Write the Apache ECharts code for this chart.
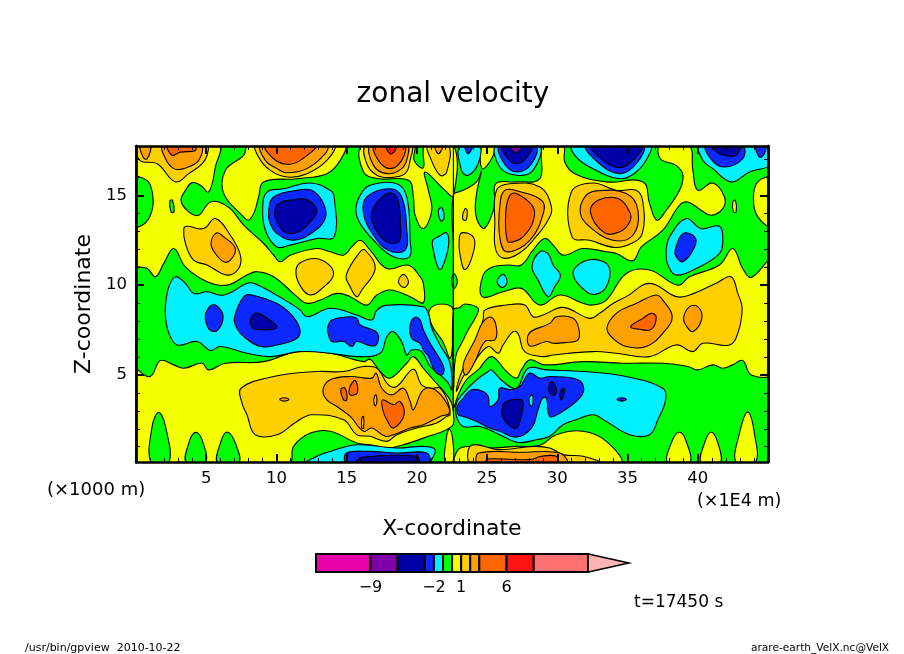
<!DOCTYPE html>
<html><head><meta charset="utf-8">
<style>html,body{margin:0;padding:0;background:#fff}#c{width:904px;height:654px}</style>
<script src="https://cdn.jsdelivr.net/npm/echarts@6/dist/echarts.min.js"></script>
</head><body><div id="c"></div>
<script>
// Tick values
const xTickValues=[5,10,15,20,25,30,35,40];
const zTickValues=[5,10,15];
const zMinorValues=[1,2,3,4,6,7,8,9,11,12,13,14,16,17];
// Colour bar levels and labels
const barLevels=[-15,-9,-6,-3,-2,-1,0,1,2,3,6,9,15];
const barLabels=[-9,-2,1,6];
// Contour regions: flat lists x,z,x,z... in axis units (1E4 m, 1000 m)
const yellowShapes=[
[-0.5,18,-0.3,18,5.85,18,5.65,16.58,5.18,15.19,4.59,15.56,4.0,15.71,3.52,15.28,3.21,14.69,3.76,14.08,4.47,13.89,4.94,14.36,5.3,14.63,5.89,14.63,6.72,14.26,7.67,13.34,9.09,12.32,9.8,11.67,10.27,11.3,10.98,11.67,12.88,12.04,13.83,11.86,14.78,11.67,15.37,12.13,15.96,12.5,16.67,11.95,17.86,10.93,19.4,11.11,20.23,10.47,20.46,10.1,20.46,9.02,19.52,9.36,18.09,9.73,17.15,9.45,16.43,8.89,15.25,9.36,14.3,9.54,13.12,9.17,12.17,8.99,11.46,9.36,9.8,10.47,8.61,10.75,7.9,10.56,6.48,10.0,5.06,10.19,3.52,11.02,2.69,12.04,1.98,11.21,1.39,10.47,0.8,10.93,-0.3,11.2,-0.5,14],
[8.0,18,14.8,18,14.54,16.95,13.59,16.21,11.46,15.93,9.09,15.75,8.73,14.91,8.43,14.08,8.02,13.62,7.67,13.8,6.25,15.1,6.36,16.39,7.67,17.23],
[16.13,18,19.75,18,19.8,16.95,20.46,16.54,20.58,18,22.6,18,22.6,14.95,22.0,15.28,20.58,16.3,20.82,15.28,21.06,14.17,20.46,13.15,19.87,13.9,19.75,14.91,19.4,15.84,17.26,15.93,16.2,16.3],
[24.65,18,25.43,18,25.38,17.13,24.65,16.49],
[22.59,15.0,23.3,15.28,24.25,15.75,24.6,16.36,24.25,15.1,24.2,13.9,24.72,13.15,25.19,13.62,25.55,14.54,25.62,15.65,27.09,15.75,28.75,15.93,28.98,18,30.41,18,30.53,16.86,31.24,16.21,33.49,15.75,36.09,15.75,36.57,14.54,37.09,13.62,37.75,14.17,38.7,15.28,38.94,16.11,38.46,16.67,37.33,17.04,37.33,18,39.36,18,39.65,16.39,40.0,15.28,41.07,15.69,41.9,14.91,41.78,14.26,40.95,13.89,40.24,14.17,39.29,14.63,38.7,14.45,37.51,13.06,35.98,12.13,35.38,11.36,34.2,11.76,33.49,11.86,31.83,12.04,30.41,11.67,29.7,12.23,29.1,12.6,28.27,11.95,27.44,11.12,26.5,11.12,25.43,11.02,24.72,10.56,24.65,9.36,26.14,9.63,27.44,9.82,28.75,8.89,30.17,9.45,31.83,8.99,32.54,8.89,33.49,9.17,34.91,10.65,36.57,10.84,38.58,10.0,39.41,10.47,41.54,11.12,42.49,12.04,43.2,10.93,43.8,10.43,45.3,11.4,45.3,5.13,43.8,5.0,43.2,5.8,42.49,5.56,41.78,5.37,41.07,5.56,40.0,5.28,39.29,5.47,37.51,5.65,34.67,5.65,31.83,5.74,29.1,5.56,28.04,5.84,27.44,5.28,27.09,4.82,26.38,5.19,25.31,6.02,24.36,5.28,23.53,4.73,22.94,3.89,22.63,3.24,22.6,6,22.6,9,22.6,12],
[20.89,8.61,21.77,8.95,22.6,8.61,22.55,6.76,22.36,5.93,22.0,6.58,21.77,6.95,21.06,7.78],
[-0.3,5.4,0.8,4.91,1.15,5.0,1.74,5.8,2.69,5.56,3.4,5.37,4.7,5.65,5.18,5.28,6.36,5.65,9.09,5.74,11.46,6.3,13.83,6.21,16.2,5.74,16.67,5.87,17.38,5.19,18.09,4.82,19.28,5.65,19.75,6.02,20.46,5.37,21.17,4.73,22.36,3.61,22.6,2.87,22.48,2.13,20.46,1.48,19.04,1.11,17.86,0.93,16.67,1.11,15.72,1.21,13.83,1.86,12.41,1.76,11.22,1.02,10.87,0,-0.3,0,-0.5,0,-0.5,3],
[22.0,0,22.12,1.58,22.31,1.98,22.55,1.39,22.55,0],
[22.82,0,22.94,0.84,23.77,1.02,25.19,0.93,27.09,1.02,28.75,1.08,29.93,1.67,31.83,1.86,33.49,1.3,34.44,0],
[37.87,0,38.11,1.21,38.7,1.82,39.22,1.21,39.41,0],
[40.24,0,40.48,1.21,40.95,1.82,41.43,1.21,41.59,0],
[42.73,0,42.97,1.76,43.56,2.93,44.03,1.76,44.1,0],
[45.3,15.93,44.27,15.75,43.96,14.82,44.27,13.8,45.3,13.28],
[42.49,14.63,42.68,14.73,42.73,14.08,42.54,14.08]
];
const greenShapes=[
[-0.3,15.99,0.56,15.93,1.03,15.56,1.22,14.54,0.91,13.71,0.44,13.34,-0.3,13.25],
[2.41,14.69,2.6,14.73,2.71,14.08,2.5,14.08],
[22.59,8.61,23.06,8.76,23.42,8.95,24.36,8.71,24.2,8.24,23.65,7.5,23.18,6.76,22.82,6.2,22.68,5.47,22.63,4.35],
[22.48,10.28,22.64,10.65,22.88,10.19,22.64,9.82],
[1.08,0,1.15,2.13,1.62,2.91,2.1,2.13,2.34,0],
[3.59,0,3.76,1.21,4.23,1.8,4.7,1.39,4.94,0],
[5.82,0,6.01,1.21,6.48,1.82,7.07,1.21,7.31,0]
];
const goldShapes=[
[0.2,18,0.27,16.95,1.51,16.76,2.81,15.75,3.76,16.21,4.7,16.76,5.06,17.23,5.01,18],
[8.57,18,8.73,17.13,9.56,16.39,10.75,16.02,12.17,16.21,13.59,16.95,14.07,18],
[16.39,18,16.43,16.76,17.15,16.12,18.09,15.99,19.16,16.21,19.52,16.95,19.56,18],
[20.77,18,20.94,17.13,21.65,16.12,22.12,16.3,22.24,18],
[3.4,13.15,3.64,13.28,4.82,13.15,5.65,13.71,6.72,12.78,7.43,11.67,7.31,10.93,6.48,10.56,5.06,11.12,4.11,11.39,3.52,12.32],
[11.39,10.65,11.7,11.25,13.12,11.43,14.07,10.65,13.12,9.73,12.41,9.45,11.81,9.82],
[14.97,10.56,15.96,11.86,16.32,11.95,17.03,10.93,16.08,9.73,15.72,9.36,15.25,9.91],
[18.69,10.19,19.04,10.6,19.4,10.19,19.09,9.87],
[25.55,13.43,25.67,15.28,26.62,15.65,28.75,15.47,29.58,14.36,29.34,13.62,28.27,12.5,27.44,11.86,26.26,11.49,25.62,11.95],
[31.0,15.19,32.54,15.69,34.2,15.28,35.62,15.28,36.09,14.63,36.05,12.87,35.26,12.32,34.08,12.1,32.3,12.5,31.05,12.69],
[23.01,12.5,23.18,12.91,24.01,12.69,24.06,11.95,23.42,10.87,23.06,11.76],
[23.25,13.71,23.42,14.26,23.58,14.17,23.49,13.62],
[7.48,4.26,9.8,4.91,12.88,5.19,14.78,5.19,16.2,5.47,17.15,5.37,17.97,4.45,18.57,4.36,19.75,5.32,20.34,4.45,21.06,4.26,21.65,4.26,22.24,3.43,22.36,2.78,22.12,2.69,21.41,2.32,19.99,2.04,18.57,1.67,17.86,1.3,16.67,1.58,15.72,1.67,14.78,2.5,12.52,2.78,11.46,2.41,10.04,1.67,8.5,1.67,7.9,2.78,7.55,3.43],
[22.82,4.08,23.06,4.91,24.01,6.58,24.72,8.06,24.84,8.61,26.38,8.89,27.68,8.89,28.27,8.24,28.98,8.34,30.41,8.76,32.3,8.15,33.01,8.43,33.96,8.98,34.91,9.36,36.57,10.1,38.46,9.36,39.41,9.45,41.31,10.1,42.37,10.47,42.85,9.54,43.16,8.71,42.85,7.32,42.26,6.67,40.36,6.76,39.65,6.3,38.46,6.67,36.57,6.02,34.2,6.21,32.54,6.3,29.7,6.11,28.98,6.02,27.68,6.3,27.2,7.32,26.85,7.41,26.14,6.67,25.79,6.21,25.08,6.58,24.01,5.65,23.3,4.91],
[23.89,0,23.89,1.08,25.9,0.84,28.27,1.02,29.46,0.93,30.41,0.56,31.83,0.47,33.01,0]
];
const orangeShapes=[
[1.93,18,2.1,17.04,2.69,16.49,3.4,16.49,4.47,16.95,4.59,18],
[0.32,18,0.51,17.13,0.8,17.04,1.03,18],
[8.92,18,9.21,16.95,10.04,16.49,10.75,16.26,12.17,16.49,13.47,17.32,13.59,18],
[16.72,18,16.91,16.67,17.86,16.21,18.92,16.49,19.33,17.13,19.28,18],
[21.29,18,21.53,17.32,21.84,18],
[5.34,12.32,5.72,12.91,6.25,12.69,7.07,12.04,6.72,11.39,6.25,11.3,5.65,11.76],
[25.9,14.36,26.26,15.28,27.44,15.19,28.87,14.73,29.03,14.08,28.04,12.5,26.38,11.86,25.9,12.69],
[31.64,13.99,31.95,14.91,32.78,15.25,34.91,15.1,35.74,14.17,35.38,12.78,33.96,12.5,32.3,13.25],
[13.31,4.17,13.83,4.73,15.25,4.91,16.79,4.82,17.1,5.1,17.5,4.26,18.21,3.89,19.04,4.26,19.52,3.52,19.75,3.06,20.46,4.17,21.29,4.17,22.12,3.43,22.31,2.87,21.65,2.69,20.46,2.22,19.52,2.04,18.33,1.67,17.74,1.58,16.79,2.04,16.2,1.86,15.25,2.69,14.3,3.24,13.59,3.61],
[10.23,3.65,10.56,3.73,10.89,3.65,10.56,3.54],
[23.3,5.19,23.35,5.74,24.13,6.95,24.72,7.97,25.31,8.21,25.67,7.6,25.55,6.95,24.84,6.86,24.13,5.74,23.53,5.0],
[27.99,7.32,29.46,7.87,29.93,8.24,31.12,8.15,31.52,7.6,31.47,6.95,30.53,6.8,29.7,6.76,29.22,6.86,28.04,6.61],
[33.53,7.6,34.2,8.43,35.62,8.98,37.04,9.45,37.51,9.17,38.18,8.24,37.51,7.32,36.33,6.58,34.91,6.58,33.96,7.04],
[38.99,8.15,39.41,8.8,40.0,8.8,40.29,8.15,39.65,7.41,39.22,7.69],
[24.36,0,24.41,0.65,27.44,0.69,30.17,0.65,30.64,0]
];
const darkOrangeShapes=[
[2.26,18,2.57,17.23,3.16,17.41,4.23,17.5,4.11,18],
[9.21,18,9.8,17.04,10.75,16.73,11.7,16.95,12.76,18],
[16.98,18,17.26,16.95,18.09,16.49,18.92,16.95,19.09,18],
[26.33,14.08,26.62,15.0,27.09,15.1,28.27,14.36,28.27,13.52,27.56,12.69,26.85,12.41,26.43,12.5],
[32.35,14.08,32.9,14.73,34.32,14.82,35.15,14.08,35.15,13.52,34.44,12.97,33.37,12.91],
[14.59,4.21,14.89,4.26,15.01,3.61,14.78,3.61],
[15.25,4.36,15.61,4.69,15.77,4.02,15.25,3.89],
[17.55,3.61,18.33,3.34,18.8,3.52,19.09,2.78,18.33,2.04,17.86,2.5,17.57,3.06],
[35.22,7.69,36.09,8.15,36.69,8.43,37.04,8.24,36.69,7.54,35.86,7.54],
[24.91,0,25.08,0.32,28.04,0.28,28.87,0.47,29.93,0.47,29.98,0]
];
const redShapes=[[17.81,18,18.09,17.32,18.45,17.5,18.52,18]];
const goldHoles=[
[16.93,3.61,17.07,3.89,17.15,3.52,17.03,3.28],
[16.08,2.6,16.2,2.69,16.2,2.04,16.08,2.04]
];
const cyanShapes=[
[2.1,8.89,2.34,9.91,2.81,10.47,3.52,10.1,4.11,9.54,5.06,9.63,6.25,9.45,7.9,10.1,8.38,10.1,9.8,9.54,10.98,8.99,11.7,8.61,12.17,8.24,13.83,8.71,15.72,8.34,16.79,8.06,17.15,8.61,17.86,8.89,20.46,8.8,20.82,8.43,21.06,7.6,21.65,6.67,22.36,5.65,22.48,4.17,22.24,4.54,21.65,5.0,20.94,5.47,20.34,6.3,19.63,6.39,19.28,6.11,18.92,6.84,18.33,7.41,17.86,7.13,17.38,6.21,15.72,6.02,13.83,6.21,11.7,6.3,9.56,6.02,7.9,6.21,6.01,6.58,5.3,6.36,4.35,6.86,2.93,6.67,2.34,7.32,2.1,8.24],
[9.02,14.36,9.33,15.19,10.51,15.37,12.41,15.69,13.83,15.28,14.11,14.91,14.11,12.69,12.88,12.6,10.98,12.23,10.04,12.13,9.21,13.06],
[15.65,14.17,15.96,15.0,16.67,15.56,18.57,15.65,19.28,14.91,19.52,12.5,19.47,11.58,18.33,11.58,16.91,12.5,15.96,13.43],
[21.53,14.17,21.77,14.32,21.93,13.71,21.7,13.58],
[21.13,12.5,21.53,12.69,22.12,12.91,22.24,12.13,21.77,10.93,21.53,10.93,21.17,11.95],
[23.06,18,23.18,16.39,23.65,16.12,24.36,16.76,24.44,18],
[25.67,18,25.9,16.58,27.09,16.12,28.27,16.39,28.7,18],
[31.07,18,31.24,17.23,32.3,16.58,34.44,15.93,35.62,16.3,36.57,17.32,36.62,18],
[40.17,18,40.36,16.95,41.07,16.49,42.37,15.75,43.68,16.3,45.3,16.76,45.3,18],
[28.2,11.02,28.75,11.86,29.34,11.76,29.7,11.12,30.22,10.56,29.81,9.91,29.34,9.36,28.63,10.28],
[31.12,10.62,31.83,11.3,33.01,11.39,33.72,10.93,33.49,9.91,32.78,9.5,32.07,9.63],
[25.71,10.19,26.14,10.6,26.43,10.19,26.09,9.87],
[37.75,11.95,37.99,12.69,39.17,13.71,40.24,13.15,41.54,13.28,41.78,12.5,41.54,11.76,39.89,10.93,38.46,10.56,37.87,11.12],
[22.82,3.43,23.3,3.98,24.25,4.73,25.08,5.19,25.31,5.28,26.14,4.63,27.09,4.26,27.92,5.37,29.22,5.28,31.83,5.19,34.91,4.91,37.51,4.26,37.71,3.61,37.16,2.5,36.57,1.67,35.15,1.67,33.49,2.41,32.54,2.78,31.35,2.5,30.41,2.22,29.46,1.58,28.51,1.39,27.21,1.24,25.9,1.67,24.48,2.13,23.3,2.13,22.82,2.69],
[12.17,0,12.88,0.47,13.83,0.74,15.72,1.11,18.57,0.93,20.46,1.02,21.3,0.84,21.06,0.28,20.94,0]
];
const blueShapes=[
[4.94,8.34,5.3,8.84,5.77,8.84,6.2,8.24,5.82,7.5,5.3,7.47,5.01,7.87],
[7.0,8.15,7.67,9.36,8.26,9.45,10.04,8.98,10.98,8.43,11.65,7.6,11.46,7.04,10.04,6.67,8.85,6.58,7.67,7.13,7.19,7.6],
[13.64,7.6,13.95,8.06,15.25,8.24,15.72,8.15,15.96,7.78,17.15,7.36,17.19,6.76,16.79,6.61,15.72,6.86,15.37,6.58,14.78,6.86,13.95,6.86,13.71,7.23],
[19.52,7.78,19.87,8.21,20.23,8.06,20.46,7.5,20.94,6.76,21.53,6.02,21.93,5.37,21.77,5.0,21.3,5.19,20.82,6.02,20.46,6.39,20.23,6.76,19.63,7.04],
[9.44,14.08,9.8,14.91,11.46,15.28,12.52,15.28,13.35,14.54,13.47,13.71,12.64,12.97,11.22,12.5,10.04,12.87,9.56,13.43],
[16.2,13.99,16.43,14.91,18.09,15.37,18.92,14.91,19.28,13.06,19.16,11.95,17.97,11.95,16.91,12.78],
[23.42,18,23.65,17.32,23.96,18],
[25.9,18,26.14,16.86,27.09,16.3,28.16,16.76,28.46,18],
[32.07,18,33.01,16.76,34.44,16.21,35.62,16.76,36.09,18],
[40.6,18,40.83,17.13,41.78,16.58,43.2,17.04,43.16,18],
[44.15,18,44.39,17.13,44.74,17.32,44.81,18],
[38.39,11.95,38.94,12.87,39.77,12.69,39.77,12.13,38.94,11.3,38.46,11.58],
[22.87,3.24,23.3,3.7,23.89,4.17,24.72,4.08,25.08,3.8,25.19,3.24,25.79,3.61,25.9,4.26,26.73,4.17,27.33,4.36,28.04,5.1,28.75,4.82,29.46,4.91,31.47,4.73,31.88,4.17,31.47,3.61,30.17,2.87,29.46,2.69,29.22,3.7,28.94,3.7,28.63,3.06,28.16,2.04,27.09,1.54,25.9,1.86,25.19,2.04,24.25,2.41,23.3,2.69,22.94,2.78],
[34.25,3.65,34.58,3.73,34.91,3.65,34.58,3.54],
[15.0,0,15.0,0.65,16.67,0.74,18.57,0.65,20.7,0.65,20.82,0]
];
const navyShapes=[
[8.14,8.06,8.5,8.43,8.97,8.34,10.04,7.65,8.5,7.54,8.19,7.78],
[9.87,13.99,10.16,14.54,11.22,14.76,12.17,14.76,12.88,14.17,12.41,13.52,11.58,12.97,10.75,12.91,10.16,13.34],
[16.79,14.08,17.86,15.1,18.57,14.91,18.85,13.06,18.69,12.41,17.86,12.41,17.03,13.15],
[26.09,18,26.5,17.04,27.09,16.76,27.75,17.04,28.16,18],
[32.42,18,33.25,16.95,34.44,16.54,35.5,17.04,35.98,18],
[41.07,18,41.54,17.32,42.73,17.23,42.85,18],
[26.09,3.24,26.38,3.52,27.44,3.61,27.56,3.24,27.21,2.13,26.85,2.04,26.14,2.6],
[29.41,4.36,29.58,4.63,29.93,4.26,29.81,3.89,29.46,3.98],
[30.17,3.98,30.41,4.26,30.53,4.17,30.29,3.61],
[15.72,0,16.08,0.41,19.99,0.47,20.1,0]
];
const purpleShapes=[[26.62,18,27.04,17.36,27.44,18]];
const cyanHoles=[[27.99,3.7,28.23,3.89,28.23,3.28,28.04,3.34]];

const palette={yellow:'#f4ff00',green:'#00ff00',gold:'#ffd000',orange:'#ff9f00',darkOrange:'#ff6600',red:'#ff1414',cyan:'#00f0ff',blue:'#0a28ff',navy:'#0000a8',purple:'#7d00a8',magenta:'#e800a8',salmon:'#ff7070',pink:'#ffb4b4'};
const barColors=['magenta','purple','navy','blue','cyan','green','yellow','gold','orange','darkOrange','red','salmon'];
const layers=[['yellow',yellowShapes],['green',greenShapes],['gold',goldShapes],['orange',orangeShapes],['darkOrange',darkOrangeShapes],['red',redShapes],['gold',goldHoles],['cyan',cyanShapes],['blue',blueShapes],['navy',navyShapes],['purple',purpleShapes],['cyan',cyanHoles]];
const regions=[];
layers.forEach(l=>l[1].forEach(s=>regions.push({color:palette[l[0]],pts:s})));

const FONT='"DejaVu Sans"';
const Z_MIN=0.15,Z_MAX=17.75;
function xAx(pos,labels){return {type:'value',gridIndex:0,position:pos,min:0,max:45,interval:5,z:5,
  axisLine:{show:true,onZero:false,lineStyle:{color:'#000',width:2.5}},
  axisTick:{show:true,inside:true,length:8,lineStyle:{color:'#000',width:2}},
  minorTick:{show:true,splitNumber:5,length:4,lineStyle:{color:'#000',width:1}},
  splitLine:{show:false},minorSplitLine:{show:false},
  axisLabel:labels?{show:true,customValues:xTickValues,margin:8,color:'#000',fontFamily:FONT,fontSize:16.5}:{show:false},
  name:labels?'X-coordinate':'',nameLocation:'middle',nameGap:56,nameTextStyle:{color:'#000',fontFamily:FONT,fontSize:22}};}
function yAx(pos,values,len,w,labels){return {type:'value',gridIndex:0,position:pos,min:Z_MIN,max:Z_MAX,z:5,
  axisLine:{show:true,onZero:false,lineStyle:{color:'#000',width:2.5}},
  axisTick:{show:true,inside:true,length:len,customValues:values,lineStyle:{color:'#000',width:w}},
  splitLine:{show:false},
  axisLabel:labels?{show:true,customValues:values,margin:9,color:'#000',fontFamily:FONT,fontSize:16.5}:{show:false},
  name:labels?'Z-coordinate':'',nameLocation:'middle',nameGap:41,nameTextStyle:{color:'#000',fontFamily:FONT,fontSize:22}};}
function txt(x,y,s,size,align){return {type:'text',x:x,y:y,style:{text:s,fill:'#000',font:size+'px '+FONT,textAlign:align||'left',textVerticalAlign:'middle'}};}

const chart=echarts.init(document.getElementById('c'),null,{renderer:'canvas'});
chart.setOption({
  animation:false,backgroundColor:'#fff',
  title:{text:'zonal velocity',left:448,top:76,textAlign:'center',textStyle:{color:'#000',fontFamily:FONT,fontSize:28,fontWeight:'normal'}},
  grid:[
    {left:136,top:146,width:632,height:316,show:true,backgroundColor:palette.green,borderWidth:0},
    {left:316,top:554,width:313,height:18,show:false}
  ],
  xAxis:[xAx('bottom',true),xAx('top',false),
    {type:'value',gridIndex:1,min:-15,max:19.5,position:'bottom',axisLine:{show:false},axisTick:{show:false},splitLine:{show:false},
     axisLabel:{show:true,customValues:barLabels,margin:8,color:'#000',fontFamily:FONT,fontSize:16,formatter:v=>String(v).replace('-','\u2212')}}],
  yAxis:[yAx('left',zTickValues,8,2,true),yAx('left',zMinorValues,4,1,false),yAx('right',zTickValues,8,2,false),yAx('right',zMinorValues,4,1,false),
    {type:'value',gridIndex:1,min:0,max:1,show:false}],
  graphic:[
    txt(47,490,'(\u00d71000 m)',18),
    txt(697,501,'(\u00d71E4 m)',17.5),
    txt(634,603,'t=17450 s',17),
    txt(25,648,'/usr/bin/gpview  2010-10-22',11),
    txt(751,648,'arare-earth_VelX.nc@VelX',10.6)
  ],
  series:[
    {type:'custom',xAxisIndex:0,yAxisIndex:0,clip:true,z:2,silent:true,
     data:regions.map((r,i)=>[i]),
     renderItem:(p,api)=>{const r=regions[api.value(0)],pts=[];
       for(let i=0;i<r.pts.length;i+=2){
         const z=Math.min(Z_MAX+0.05,Math.max(Z_MIN-0.05,r.pts[i+1]));
         pts.push(api.coord([r.pts[i],z]));
       }
       return {type:'polygon',shape:{points:pts,smooth:0.4},style:{fill:r.color,stroke:'#000',lineWidth:1.1}};}},
    {type:'line',xAxisIndex:0,yAxisIndex:0,z:3,symbol:'none',silent:true,data:[[22.6,17.75],[22.6,3]],lineStyle:{color:'#000',width:1.1}},
    {type:'custom',xAxisIndex:2,yAxisIndex:4,clip:false,z:2,silent:true,
     data:barColors.map((c,i)=>[i]),
     renderItem:(p,api)=>{const i=api.value(0);
       const a=api.coord([barLevels[i],1]),b=api.coord([barLevels[i+1],0]);
       return {type:'rect',shape:{x:a[0],y:a[1],width:b[0]-a[0],height:b[1]-a[1]},style:{fill:palette[barColors[i]],stroke:'#000',lineWidth:2}};}},
    {type:'custom',xAxisIndex:2,yAxisIndex:4,clip:false,z:2,silent:true,
     data:[[15,19.5]],
     renderItem:(p,api)=>{const pts=[api.coord([api.value(0),1]),api.coord([api.value(0),0]),api.coord([api.value(1),0.5])];
       return {type:'polygon',shape:{points:pts},style:{fill:palette.pink,stroke:'#000',lineWidth:1.5}};}}
  ]
});
</script></body></html>
